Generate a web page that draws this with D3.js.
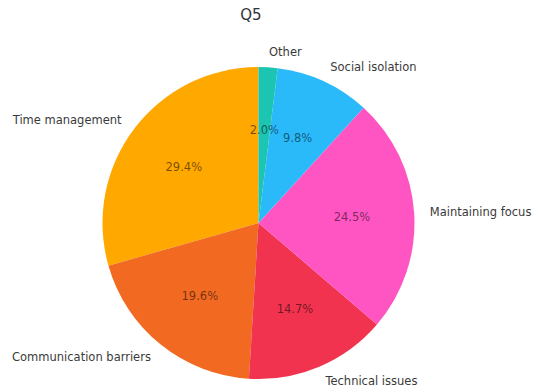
<!DOCTYPE html>
<html>
<head>
<meta charset="utf-8">
<script src="https://cdn.jsdelivr.net/npm/d3@7"></script>
<style>
  html, body { margin: 0; padding: 0; background: #fff; }
  svg { display: block; font-family: "DejaVu Sans", sans-serif; }
</style>
</head>
<body>
<svg id="chart" width="539" height="391"></svg>
<script>
// Survey responses for Q5
const title = "Q5";
const categories = ["Time management", "Communication barriers", "Technical issues",
                    "Maintaining focus", "Social isolation", "Other"];
const counts = [30, 20, 15, 25, 10, 2];
const colors = ["#FFA800", "#F26A22", "#F2334F", "#FF55C2", "#2ABAFA", "#1CC4B2"];

const svg = d3.select("#chart");
const cx = 258.5, cy = 223, r = 156;

const data = categories.map((c, i) => ({ label: c, value: counts[i], color: colors[i] }));
const total = d3.sum(counts);

// Start at 12 o'clock and go counter-clockwise
const pie = d3.pie().value(d => d.value).sort(null).startAngle(0).endAngle(-2 * Math.PI);
const arcs = pie(data);
const arc = d3.arc().innerRadius(0).outerRadius(r);

const g = svg.append("g").attr("transform", `translate(${cx},${cy})`);

g.selectAll("path.slice")
  .data(arcs)
  .join("path")
  .attr("class", "slice")
  .attr("d", arc)
  .attr("fill", d => d.data.color);

const mid = d => (d.startAngle + d.endAngle) / 2;
const pt = (d, k) => [k * r * Math.sin(mid(d)), -k * r * Math.cos(mid(d))];

// Category labels outside the pie
g.selectAll("text.label")
  .data(arcs)
  .join("text")
  .attr("class", "label")
  .attr("x", d => pt(d, 1.1)[0])
  .attr("y", d => pt(d, 1.1)[1])
  .attr("dy", "0.35em")
  .attr("text-anchor", d => pt(d, 1.1)[0] > 0 ? "start" : "end")
  .attr("font-size", 11.5)
  .attr("fill", "#3a3a3a")
  .text(d => d.data.label);

// Percentages inside slices
const fmt = d3.format(".1f");
g.selectAll("text.pct")
  .data(arcs)
  .join("text")
  .attr("class", "pct")
  .attr("x", d => pt(d, 0.6)[0])
  .attr("y", d => pt(d, 0.6)[1])
  .attr("dy", "0.35em")
  .attr("text-anchor", "middle")
  .attr("font-size", 11.5)
  .attr("fill", "#000")
  .attr("fill-opacity", 0.55)
  .text(d => fmt(d.data.value / total * 100) + "%");

svg.append("text")
  .attr("x", 251)
  .attr("y", 15)
  .attr("dy", "0.35em")
  .attr("text-anchor", "middle")
  .attr("font-size", 15)
  .attr("fill", "#333")
  .text(title);
</script>
</body>
</html>
